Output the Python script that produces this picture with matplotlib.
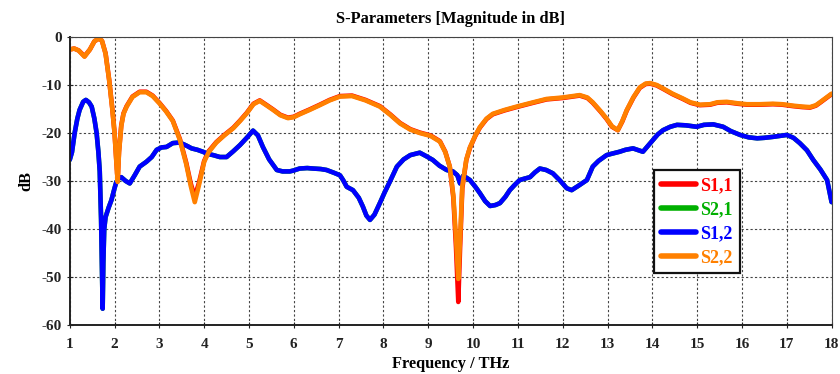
import matplotlib.pyplot as plt

# S-parameter sweep, frequency in THz, magnitude in dB
f_refl = [1.0, 1.1, 1.2, 1.33, 1.45, 1.55, 1.65, 1.72, 1.8, 1.88, 1.95, 2.0, 2.04, 2.07, 2.1,
          2.15, 2.2, 2.27, 2.4, 2.56, 2.71, 2.85, 3.0, 3.15, 3.3, 3.46, 3.6, 3.7, 3.79, 3.88,
          4.0, 4.1, 4.27, 4.45, 4.65, 4.8, 4.95, 5.1, 5.24, 5.4, 5.54, 5.7, 5.87, 6.0, 6.13,
          6.35, 6.58, 6.8, 7.03, 7.3, 7.6, 7.92, 8.15, 8.37, 8.6, 8.81, 9.05, 9.26, 9.38, 9.48,
          9.56, 9.62, 9.67, 9.71, 9.76, 9.85, 9.93, 10.05, 10.15, 10.3, 10.44, 10.7, 10.97,
          11.3, 11.64, 12.0, 12.38, 12.55, 12.67, 12.85, 12.98, 13.1, 13.23, 13.33, 13.43,
          13.58, 13.72, 13.85, 13.95, 14.1, 14.24, 14.45, 14.68, 14.85, 15.06, 15.29, 15.45,
          15.66, 15.9, 16.11, 16.4, 16.69, 16.9, 17.14, 17.35, 17.52, 17.65, 17.74, 17.87, 18.0]

s22_db = [-2.6, -2.4, -2.8, -4.1, -2.6, -0.9, -0.3, -0.8, -3.5, -9.0, -15.0, -20.0, -26.0, -30.2, -24.0,
          -18.6, -16.0, -14.5, -12.5, -11.5, -11.5, -12.3, -13.8, -15.5, -17.5, -21.5, -26.5, -31.0, -34.4, -31.0,
          -26.0, -24.0, -22.0, -20.5, -19.0, -17.5, -15.9, -14.0, -13.3, -14.3, -15.2, -16.3, -16.9, -16.7, -16.1,
          -15.2, -14.2, -13.2, -12.4, -12.3, -13.2, -14.5, -16.2, -18.0, -19.3, -20.0, -20.6, -21.8, -24.0, -27.0,
          -33.0, -42.0, -50.4, -42.0, -31.0, -25.5, -23.0, -20.5, -18.8, -17.0, -16.0, -15.2, -14.5,
          -13.7, -12.9, -12.6, -12.1, -12.6, -13.6, -15.5, -17.0, -18.6, -19.4, -17.5, -15.2,
          -12.5, -10.5, -9.7, -9.6, -10.0, -10.7, -11.8, -12.8, -13.6, -14.1, -14.0, -13.6,
          -13.5, -13.8, -14.0, -14.0, -13.9, -14.0, -14.3, -14.5, -14.6, -14.2, -13.6, -12.7, -11.8]

s11_db = [-2.6, -2.4, -2.8, -4.0, -2.6, -0.9, -0.3, -0.8, -3.4, -8.9, -14.9, -19.9, -25.8, -30.0, -23.8,
          -18.4, -15.9, -14.4, -12.4, -11.4, -11.4, -12.2, -13.7, -15.4, -17.4, -21.3, -26.2, -30.5, -33.3, -30.5,
          -25.8, -23.8, -21.9, -20.4, -18.9, -17.4, -15.8, -13.9, -13.2, -14.2, -15.1, -16.2, -16.8, -16.6, -16.0,
          -15.1, -14.1, -13.1, -12.3, -12.2, -13.1, -14.4, -16.1, -17.9, -19.2, -19.9, -20.5, -21.7, -23.9, -27.0,
          -33.5, -44.0, -55.2, -44.0, -31.5, -25.6, -23.1, -20.6, -18.9, -17.1, -16.1, -15.3, -14.6,
          -13.8, -13.0, -12.7, -12.2, -12.7, -13.7, -15.6, -17.1, -18.7, -19.4, -17.6, -15.3,
          -12.6, -10.6, -9.8, -9.7, -10.1, -10.8, -11.9, -12.9, -13.7, -14.2, -14.1, -13.7,
          -13.6, -13.9, -14.1, -14.1, -14.0, -14.1, -14.4, -14.6, -14.7, -14.3, -13.7, -12.8, -11.9]

f_trans = [1.0, 1.05, 1.11, 1.17, 1.22, 1.3, 1.36, 1.43, 1.49, 1.55, 1.6, 1.64, 1.67, 1.7, 1.72,
           1.735, 1.75, 1.77, 1.8, 1.87, 1.93, 2.0, 2.04, 2.1, 2.15, 2.25, 2.34, 2.45, 2.56, 2.71,
           2.83, 2.94, 3.05, 3.16, 3.3, 3.43, 3.53, 3.62, 3.72, 3.85, 3.97, 4.1, 4.2, 4.35, 4.5,
           4.65, 4.8, 4.95, 5.09, 5.2, 5.31, 5.45, 5.62, 5.75, 5.91, 6.0, 6.13, 6.3, 6.43, 6.6,
           6.73, 6.9, 7.03, 7.1, 7.18, 7.32, 7.45, 7.54, 7.62, 7.7, 7.8, 7.92, 8.03, 8.14, 8.3,
           8.45, 8.6, 8.81, 8.95, 9.1, 9.25, 9.41, 9.55, 9.65, 9.71, 9.77, 9.85, 9.93, 10.05, 10.15,
           10.27, 10.38, 10.5, 10.6, 10.72, 10.82, 10.93, 11.04, 11.15, 11.27, 11.38, 11.49, 11.63,
           11.78, 11.95, 12.09, 12.2, 12.35, 12.54, 12.67, 12.8, 12.98, 13.1, 13.27, 13.4, 13.57,
           13.7, 13.79, 13.9, 14.01, 14.12, 14.24, 14.4, 14.55, 14.75, 14.99, 15.15, 15.36, 15.58,
           15.75, 15.96, 16.15, 16.34, 16.5, 16.69, 16.85, 17.0, 17.15, 17.29, 17.45, 17.59, 17.75,
           17.9, 18.0]

s12_db = [-25.6, -24.0, -20.0, -17.0, -15.2, -13.5, -13.1, -13.6, -14.5, -17.0, -20.0, -24.0, -28.0, -38.0, -48.0,
          -56.6, -47.0, -40.0, -37.5, -35.5, -34.0, -31.5, -30.2, -29.4, -29.2, -30.0, -30.5, -28.8, -27.0, -26.0,
          -25.0, -23.5, -23.0, -22.9, -22.1, -22.0, -22.3, -22.7, -23.2, -23.5, -23.9, -24.4, -24.6, -25.0, -25.0,
          -23.8, -22.5, -21.0, -19.5, -20.5, -22.9, -25.5, -27.7, -28.0, -28.0, -27.8, -27.4, -27.3, -27.4, -27.5,
          -27.7, -28.3, -28.8, -29.8, -31.2, -31.9, -33.5, -35.3, -37.2, -38.1, -37.0, -34.6, -32.3, -30.2, -27.0,
          -25.5, -24.6, -24.1, -24.8, -25.6, -26.8, -27.7, -28.0, -28.8, -30.5, -29.0, -29.3, -29.8, -31.2, -32.5,
          -34.2, -35.2, -35.0, -34.6, -33.3, -31.9, -30.8, -29.8, -29.5, -29.2, -28.2, -27.4, -27.7,
          -28.4, -30.0, -31.5, -31.9, -31.0, -29.8, -27.0, -25.8, -24.6, -24.3, -23.9, -23.5, -23.2,
          -23.6, -23.9, -22.7, -21.5, -20.3, -19.4, -18.7, -18.3, -18.4, -18.7, -18.3, -18.2, -18.7,
          -19.6, -20.4, -20.9, -21.1, -21.0, -20.8, -20.6, -20.4, -21.0, -22.1, -23.6, -25.6, -27.6,
          -29.8, -34.4]

# reciprocal structure: transmission is the same both ways
s21_db = list(s12_db)

x_ticks = list(range(1, 19))
y_ticks = [0, -10, -20, -30, -40, -50, -60]

plt.rcParams["font.family"] = "Liberation Serif"
plt.rcParams["font.weight"] = "bold"
plt.rcParams["axes.unicode_minus"] = False

fig = plt.figure(figsize=(8.4, 3.74), dpi=100)
ax = fig.add_axes([0.083, 0.131, 0.907, 0.770])

ax.plot(f_refl, s11_db, color="#ff0000", lw=3.3, label="S1,1", solid_capstyle="round")
ax.plot(f_trans, s21_db, color="#00b000", lw=3.3, label="S2,1", solid_capstyle="round")
ax.plot(f_trans, s12_db, color="#0000ff", lw=3.3, label="S1,2", solid_capstyle="round")
ax.plot(f_refl, s22_db, color="#ff8000", lw=3.3, label="S2,2", solid_capstyle="round")

ax.set_xlim(1, 18)
ax.set_ylim(-60, 0)
ax.set_xticks(x_ticks)
ax.set_yticks(y_ticks)
ax.tick_params(direction="inout", length=4, width=0.8, labelsize=11, colors="#222222")
ax.tick_params(axis="x", pad=7)
for lab in ax.get_xticklabels() + ax.get_yticklabels():
    lab.set_fontweight("bold")

ax.grid(True, color="#444444", linestyle=(0, (2, 2)), linewidth=0.8)
for side in ["left", "bottom"]:
    ax.spines[side].set_linewidth(1.4)
    ax.spines[side].set_color("#222222")
for side in ["top", "right"]:
    ax.spines[side].set_linewidth(0.8)
    ax.spines[side].set_color("#444444")

ax.set_title("S-Parameters [Magnitude in dB]", fontsize=11.8, fontweight="bold", pad=10)
ax.set_xlabel("Frequency / THz", fontsize=11.8, fontweight="bold", labelpad=4)
ax.set_ylabel("dB", fontsize=11.8, fontweight="bold", labelpad=5)

leg = ax.legend(loc="upper left", bbox_to_anchor=(0.767, 0.538), fontsize=13,
                handlelength=1.9, handletextpad=0.25, borderpad=0.4, borderaxespad=0,
                labelspacing=0.38, fancybox=False, framealpha=1, edgecolor="#111111")
leg.get_frame().set_linewidth(1.6)
for txt, line in zip(leg.get_texts(), leg.get_lines()):
    txt.set_color(line.get_color())
    txt.set_fontweight("bold")
    line.set_linewidth(4)

fig.savefig("out.png", dpi=100)
